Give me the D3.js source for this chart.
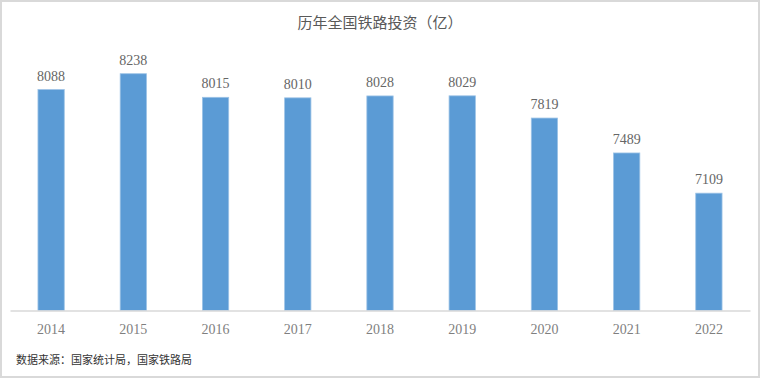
<!DOCTYPE html>
<html>
<head>
<meta charset="utf-8">
<script src="https://cdn.jsdelivr.net/npm/d3@7"></script>
<style>
  body { margin: 0; background: #fff; }
  svg { display: block; }
</style>
</head>
<body>
<div id="chart"></div>
<script>
// data
var years = ["2014", "2015", "2016", "2017", "2018", "2019", "2020", "2021", "2022"];
var investment = [8088, 8238, 8015, 8010, 8028, 8029, 7819, 7489, 7109];
var yDomain = [6000, 8500];

var width = 760,
    height = 378;

var svg = d3.select("#chart").append("svg")
    .attr("width", width)
    .attr("height", height);

// outer frame
svg.append("rect")
    .attr("x", 1).attr("y", 1)
    .attr("width", width - 2).attr("height", height - 2)
    .attr("fill", "#fff")
    .attr("stroke", "#d9d9d9")
    .attr("stroke-width", 2);

var x = d3.scaleBand()
    .domain(years)
    .range([10, 750])
    .paddingInner(0.68)
    .paddingOuter(0.34);

var y = d3.scaleLinear()
    .domain(yDomain)
    .range([310.5, 46]);

// title
svg.append("text")
    .attr("x", 380)
    .attr("y", 28)
    .attr("text-anchor", "middle")
    .attr("font-family", "'Noto Sans CJK SC', sans-serif")
    .attr("font-size", 15)
    .attr("fill", "#595959")
    .text("历年全国铁路投资（亿）");

// bars
svg.selectAll(".bar")
    .data(investment)
    .enter().append("rect")
    .attr("class", "bar")
    .attr("x", function(d, i) { return x(years[i]); })
    .attr("y", function(d) { return y(d); })
    .attr("width", x.bandwidth())
    .attr("height", function(d) { return y(yDomain[0]) - y(d); })
    .attr("fill", "#5b9bd5")
    .attr("stroke", "#9dc3e6")
    .attr("stroke-width", 0.8);

// value labels
svg.selectAll(".label")
    .data(investment)
    .enter().append("text")
    .attr("class", "label")
    .attr("x", function(d, i) { return x(years[i]) + x.bandwidth() / 2; })
    .attr("y", function(d) { return y(d) - 9; })
    .attr("text-anchor", "middle")
    .attr("font-family", "'Liberation Serif', serif")
    .attr("font-size", 14)
    .attr("fill", "#666")
    .text(function(d) { return d; });

// x axis
var xAxis = svg.append("g")
    .attr("transform", "translate(0," + y(yDomain[0]) + ")")
    .call(d3.axisBottom(x).tickSize(0).tickPadding(14));

xAxis.select(".domain")
    .attr("stroke", "#d9d9d9")
    .attr("stroke-width", 1.5);

xAxis.selectAll("text")
    .attr("font-family", "'Liberation Serif', serif")
    .attr("font-size", 14)
    .attr("fill", "#7f7f7f");

// source note
svg.append("text")
    .attr("x", 16)
    .attr("y", 364)
    .attr("font-family", "'Noto Sans CJK SC', sans-serif")
    .attr("font-size", 11)
    .attr("fill", "#333")
    .text("数据来源：国家统计局，国家铁路局");
</script>
</body>
</html>
